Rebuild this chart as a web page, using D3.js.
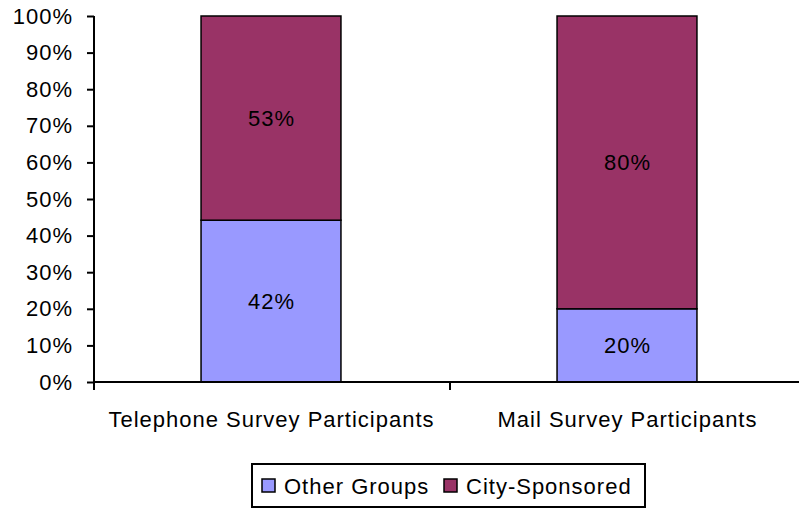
<!DOCTYPE html>
<html>
<head>
<meta charset="utf-8">
<script src="https://cdn.jsdelivr.net/npm/d3@7"></script>
<style>
  html, body { margin: 0; padding: 0; background: #fff; }
  svg { display: block; font-family: "Liberation Sans", Arial, sans-serif; }
</style>
</head>
<body>
<svg id="chart" width="799" height="509"></svg>
<script>
const categories = ["Telephone Survey Participants", "Mail Survey Participants"];
const seriesNames = ["Other Groups", "City-Sponsored"];
const otherGroups = [42, 20];
const citySponsored = [53, 80];
const yTicks = [0, 0.1, 0.2, 0.3, 0.4, 0.5, 0.6, 0.7, 0.8, 0.9, 1.0];
const colors = ["#9999FF", "#993366"];

const rows = categories.map((c, i) => ({ cat: c, "Other Groups": otherGroups[i], "City-Sponsored": citySponsored[i] }));

const svg = d3.select("#chart");
const fontSize = 22;
const ls = 1;

const x = d3.scaleBand().domain(categories).range([93, 805]).paddingInner(0.607).paddingOuter(0.3035);
const y = d3.scaleLinear().domain([0, 1]).range([382, 16]);

const stack = d3.stack().keys(seriesNames).offset(d3.stackOffsetExpand);
const stacked = stack(rows);

// bars
const g = svg.append("g");
stacked.forEach((s, si) => {
  g.selectAll(null).data(s).enter().append("rect")
    .attr("x", d => x(d.data.cat))
    .attr("width", x.bandwidth())
    .attr("y", d => y(d[1]))
    .attr("height", d => y(d[0]) - y(d[1]))
    .attr("fill", colors[si])
    .attr("stroke", "#000")
    .attr("stroke-width", 1.5);
});

// value labels
stacked.forEach((s, si) => {
  g.selectAll(null).data(s).enter().append("text")
    .attr("x", d => x(d.data.cat) + x.bandwidth() / 2 + ls / 2)
    .attr("y", d => (y(d[0]) + y(d[1])) / 2)
    .attr("text-anchor", "middle")
    .attr("dominant-baseline", "central")
    .attr("font-size", fontSize)
    .attr("letter-spacing", ls)
    .attr("fill", "#000")
    .text(d => d.data[s.key] + "%");
});

// y axis
const yAxis = d3.axisLeft(y).tickValues(yTicks).tickFormat(d3.format(".0%")).tickSize(7).tickPadding(14);
const ya = svg.append("g").attr("transform", "translate(94,0)").call(yAxis);
ya.select(".domain").attr("stroke", "#000").attr("stroke-width", 2).attr("d", "M0,16V390");
ya.selectAll(".tick line").attr("stroke", "#000").attr("stroke-width", 2);
ya.selectAll(".tick text").attr("font-size", fontSize).attr("letter-spacing", ls)
  .attr("font-family", "Liberation Sans, Arial, sans-serif").attr("fill", "#000");

// x axis
svg.append("line").attr("x1", 94).attr("x2", 806).attr("y1", 382).attr("y2", 382).attr("stroke", "#000").attr("stroke-width", 2);
const boundaries = [94, (x(categories[0]) + x.bandwidth() / 2 + x(categories[1]) + x.bandwidth() / 2) / 2 + 1, 806];
svg.selectAll(null).data(boundaries).enter().append("line")
  .attr("x1", d => d).attr("x2", d => d).attr("y1", 382).attr("y2", 390)
  .attr("stroke", "#000").attr("stroke-width", 2);
svg.selectAll(null).data(categories).enter().append("text")
  .attr("x", d => x(d) + x.bandwidth() / 2 + ls / 2)
  .attr("y", 427)
  .attr("text-anchor", "middle")
  .attr("font-size", fontSize)
  .attr("letter-spacing", ls)
  .attr("fill", "#000")
  .text(d => d);

// legend
const lg = svg.append("g");
lg.append("rect").attr("x", 252).attr("y", 464).attr("width", 393).attr("height", 43)
  .attr("fill", "#fff").attr("stroke", "#000").attr("stroke-width", 2);
const legendX = [262, 444];
seriesNames.forEach((n, i) => {
  lg.append("rect").attr("x", legendX[i]).attr("y", 479).attr("width", 13).attr("height", 13)
    .attr("fill", colors[i]).attr("stroke", "#000").attr("stroke-width", 1.5);
  lg.append("text").attr("x", legendX[i] + 22).attr("y", 486)
    .attr("dominant-baseline", "central")
    .attr("font-size", fontSize).attr("letter-spacing", ls).attr("fill", "#000").text(n);
});
</script>
</body>
</html>
